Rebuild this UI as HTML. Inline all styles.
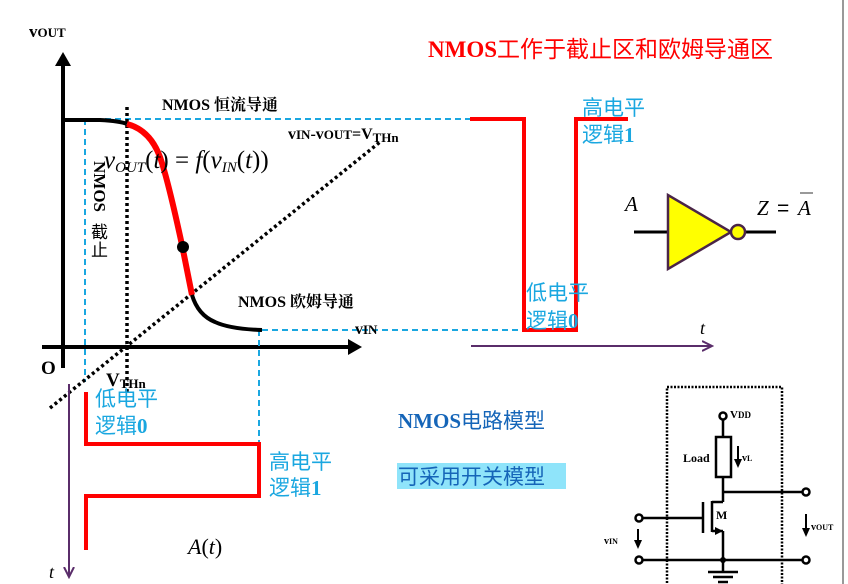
<!DOCTYPE html>
<html><head><meta charset="utf-8"><style>
html,body{margin:0;padding:0;background:#fff;}
svg{display:block;}
.b{font-family:"Liberation Serif","Noto Serif CJK SC",serif;font-weight:bold;}
.cj{font-family:"Liberation Sans","Noto Sans CJK SC",sans-serif;}
.it{font-family:"Liberation Serif",serif;font-style:italic;}
</style></head><body>
<svg width="848" height="584" viewBox="0 0 848 584" xmlns="http://www.w3.org/2000/svg">
<defs>
<marker id="ap" markerWidth="12" markerHeight="12" refX="10" refY="6" orient="auto" markerUnits="userSpaceOnUse"><path d="M0,1 L10,6 L0,11" fill="none" stroke="#5a2d6a" stroke-width="2"/></marker>
</defs>
<line x1="843" y1="0" x2="843" y2="584" stroke="#999" stroke-width="2"/>

<line x1="63" y1="368" x2="63" y2="62" stroke="#000" stroke-width="4"/>
<path d="M55,66 L63,52 L71,66 z" fill="#000"/>
<line x1="42" y1="347" x2="352" y2="347" stroke="#000" stroke-width="4"/>
<path d="M348,339 L362,347 L348,355 z" fill="#000"/>
<text x="29" y="37" class="b" font-size="17">v<tspan font-size="13">OUT</tspan></text>
<text x="41" y="374" class="b" font-size="19">O</text>

<g stroke="#1aa7e0" stroke-width="2" stroke-dasharray="6,4" fill="none">
<line x1="85" y1="119" x2="470" y2="119"/>
<line x1="85" y1="119" x2="85" y2="382"/>
<line x1="262" y1="330" x2="525" y2="330"/>
<line x1="259" y1="330" x2="259" y2="442"/>
</g>
<line x1="127" y1="107" x2="127" y2="392" stroke="#000" stroke-width="3.5" stroke-dasharray="3,3"/>
<line x1="50" y1="408" x2="380" y2="142" stroke="#000" stroke-width="3.5" stroke-dasharray="3,3"/>

<path d="M65,120 L100,120 Q120,121 127,124" fill="none" stroke="#000" stroke-width="4"/>
<path d="M127,124 Q150,130 160,157 Q168,180 182,245 L192,295" fill="none" stroke="#f00" stroke-width="6"/>
<path d="M192,295 Q198,315 215,322 Q230,329 262,330" fill="none" stroke="#000" stroke-width="4"/>
<circle cx="183" cy="247" r="6" fill="#000"/>

<text x="162" y="110" class="b" font-size="16">NMOS 恒流导通</text>
<text x="288" y="139" class="b" font-size="16">v<tspan font-size="13">IN</tspan>-v<tspan font-size="13">OUT</tspan>=V<tspan font-size="13" dy="3">THn</tspan></text>
<text x="104" y="168" class="it" font-size="25">v<tspan font-size="15" dy="4">OUT</tspan><tspan dy="-4" font-style="normal">(</tspan>t<tspan font-style="normal">) = </tspan>f<tspan font-style="normal">(</tspan>v<tspan font-size="15" dy="4">IN</tspan><tspan dy="-4" font-style="normal">(</tspan>t<tspan font-style="normal">))</tspan></text>
<text transform="translate(94,161) rotate(90)" class="b" font-size="17">NMOS</text>
<text x="91" y="238" class="cj" font-size="17">截</text>
<text x="91" y="256" class="cj" font-size="17">止</text>
<text x="238" y="307" class="b" font-size="16">NMOS 欧姆导通</text>
<text x="355" y="334" class="b" font-size="16">v<tspan font-size="13">IN</tspan></text>
<text x="106" y="386" class="b" font-size="19">V<tspan font-size="13" dy="2">THn</tspan></text>

<text x="428" y="57" class="b" font-size="23" fill="#f00">NMOS<tspan class="cj" font-weight="normal">工作于截止区和欧姆导通区</tspan></text>

<path d="M470,119 L524,119 L524,330 L576,330 L576,119 L628,119" fill="none" stroke="#f00" stroke-width="4"/>
<g class="cj" font-size="21" fill="#1aa7e0">
<text x="582" y="115">高电平</text>
<text x="582" y="142">逻辑<tspan class="b">1</tspan></text>
<text x="526" y="300">低电平</text>
<text x="526" y="328">逻辑<tspan class="b">0</tspan></text>
<text x="95" y="406">低电平</text>
<text x="95" y="433">逻辑<tspan class="b">0</tspan></text>
<text x="269" y="469">高电平</text>
<text x="269" y="495">逻辑<tspan class="b">1</tspan></text>
</g>
<line x1="471" y1="346" x2="712" y2="346" stroke="#5a2d6a" stroke-width="2" marker-end="url(#ap)"/>
<text x="700" y="334" class="it" font-size="18">t</text>

<line x1="634" y1="232" x2="668" y2="232" stroke="#000" stroke-width="3"/>
<line x1="745" y1="232" x2="776" y2="232" stroke="#000" stroke-width="3"/>
<path d="M668,195 L668,269 L731,232 z" fill="#ff0" stroke="#4a2548" stroke-width="2.5"/>
<circle cx="738" cy="232" r="7" fill="#ff0" stroke="#4a2548" stroke-width="2.5"/>
<text x="625" y="211" class="it" font-size="21">A</text>
<text x="757" y="215" class="it" font-size="21">Z</text>
<text x="777" y="215" class="cj" font-size="21">=</text>
<text x="798" y="215" class="it" font-size="21">A</text>
<line x1="800" y1="193" x2="813" y2="193" stroke="#555" stroke-width="1.2"/>

<line x1="69" y1="384" x2="69" y2="577" stroke="#5a2d6a" stroke-width="2" marker-end="url(#ap)"/>
<text x="49" y="578" class="it" font-size="18">t</text>
<path d="M86,392 L86,444 L259,444 L259,496 L86,496 L86,550" fill="none" stroke="#f00" stroke-width="4"/>
<text x="188" y="554" class="it" font-size="22">A<tspan font-style="normal">(</tspan>t<tspan font-style="normal">)</tspan></text>

<text x="398" y="428" class="b" font-size="21" fill="#1565b8">NMOS<tspan class="cj" font-weight="normal">电路模型</tspan></text>
<rect x="397" y="463" width="169" height="26" fill="#8fe4fa"/>
<text x="398" y="484" class="cj" font-size="21" fill="#1565b8">可采用开关模型</text>

<rect x="667" y="387" width="115" height="200" fill="none" stroke="#000" stroke-width="2.5" stroke-dasharray="2,1.5"/>
<g stroke="#000" stroke-width="2.5" fill="none">
<circle cx="723" cy="416" r="3.5" fill="#fff"/>
<line x1="723" y1="420" x2="723" y2="437"/>
<rect x="716" y="437" width="15" height="40" fill="#fff"/>
<line x1="723" y1="477" x2="723" y2="502"/>
<line x1="723" y1="492" x2="803" y2="492"/>
<circle cx="806" cy="492" r="3.5" fill="#fff"/>
<line x1="703" y1="502" x2="703" y2="533"/>
<line x1="712" y1="501" x2="712" y2="532"/>
<line x1="712" y1="502" x2="723" y2="502"/>
<line x1="712" y1="531" x2="723" y2="531"/>
<line x1="723" y1="531" x2="723" y2="572"/>
<line x1="642" y1="518" x2="703" y2="518"/>
<circle cx="639" cy="518" r="3.5" fill="#fff"/>
<line x1="642" y1="560" x2="803" y2="560"/>
<circle cx="639" cy="560" r="3.5" fill="#fff"/>
<circle cx="806" cy="560" r="3.5" fill="#fff"/>
<line x1="708" y1="572" x2="738" y2="572"/>
<line x1="713" y1="577" x2="733" y2="577"/>
<line x1="718" y1="582" x2="728" y2="582"/>
</g>
<path d="M715,527 L723,531 L715,535 z" fill="#000"/>
<circle cx="723" cy="560" r="3" fill="#000"/>
<line x1="738" y1="446" x2="738" y2="460" stroke="#000" stroke-width="2"/>
<path d="M734,459 L738,468 L742,459 z" fill="#000"/>
<line x1="638" y1="529" x2="638" y2="541" stroke="#000" stroke-width="2"/>
<path d="M634,540 L638,549 L642,540 z" fill="#000"/>
<line x1="806" y1="514" x2="806" y2="529" stroke="#000" stroke-width="2"/>
<path d="M802,528 L806,537 L810,528 z" fill="#000"/>
<text x="730" y="418" class="b" font-size="11">V<tspan font-size="9">DD</tspan></text>
<text x="683" y="462" class="b" font-size="12">Load</text>
<text x="742" y="461" class="b" font-size="10">v<tspan font-size="8">L</tspan></text>
<text x="716" y="519" class="b" font-size="12">M</text>
<text x="604" y="544" class="b" font-size="10">v<tspan font-size="8">IN</tspan></text>
<text x="811" y="530" class="b" font-size="10">v<tspan font-size="8">OUT</tspan></text>
</svg>
</body></html>
